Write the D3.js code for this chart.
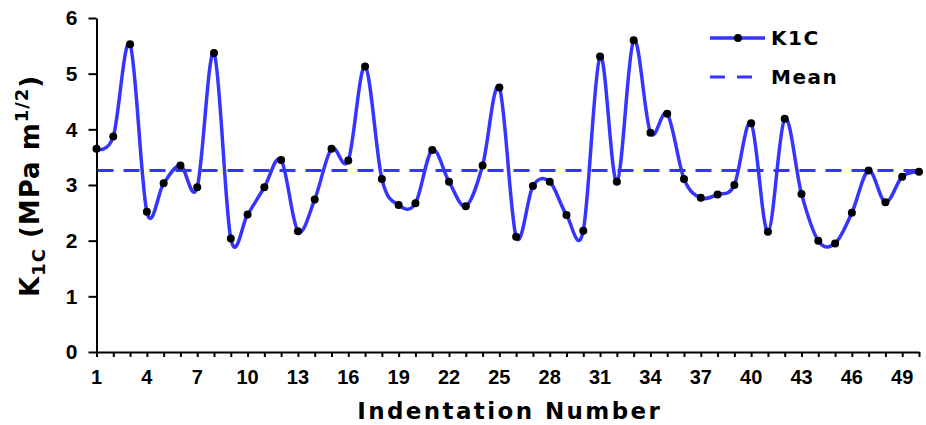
<!DOCTYPE html>
<html>
<head>
<meta charset="utf-8">
<script src="https://cdn.jsdelivr.net/npm/d3@7"></script>
<style>
  body { margin: 0; background: #fff; }
  svg { display: block; font-family: "DejaVu Sans", Verdana, sans-serif; font-weight: bold; }
</style>
</head>
<body>
<svg id="chart"></svg>
<script>
// indentation numbers and measured K1C values
var indentation = [1, 2, 3, 4, 5, 6, 7, 8, 9, 10,
                   11, 12, 13, 14, 15, 16, 17, 18, 19, 20,
                   21, 22, 23, 24, 25, 26, 27, 28, 29, 30,
                   31, 32, 33, 34, 35, 36, 37, 38, 39, 40,
                   41, 42, 43, 44, 45, 46, 47, 48, 49, 50]
var k1c = [3.65, 3.87, 5.53, 2.52, 3.03, 3.35, 2.96, 5.37, 2.04, 2.47,
           2.96, 3.45, 2.17, 2.74, 3.65, 3.44, 5.13, 3.11, 2.64, 2.67,
           3.63, 3.06, 2.62, 3.35, 4.75, 2.07, 2.98, 3.06, 2.46, 2.18,
           5.31, 3.06, 5.60, 3.94, 4.28, 3.11, 2.77, 2.83, 3.00, 4.11,
           2.16, 4.19, 2.84, 2.00, 1.95, 2.50, 3.26, 2.69, 3.15, 3.24]
var meanValue = 3.26
var xTicks = [1, 4, 7, 10, 13, 16, 19, 22, 25, 28, 31, 34, 37, 40, 43, 46, 49]
var yTicks = [0, 1, 2, 3, 4, 5, 6]
var legendItems = ["K1C", "Mean"]

var width = 926, height = 425
var margin = { top: 18, right: 7, bottom: 73, left: 96.5 }
var blue = "#3535ff"

var svg = d3.select("#chart")
            .attr("width", width)
            .attr("height", height)

var data = indentation.map((n, i) => ({ n: n, v: k1c[i] }))

var xScale = d3.scaleLinear()
               .domain([1, 50])
               .range([margin.left, width - margin.right])

var yScale = d3.scaleLinear()
               .domain([0, 6])
               .range([height - margin.bottom, margin.top])

// axes
var xAxis = svg.append("g")
               .attr("transform", `translate(0,${height - margin.bottom})`)
               .call(d3.axisBottom(xScale).tickValues(indentation).tickFormat("").tickSizeInner(5).tickSizeOuter(0))
xAxis.selectAll("text").remove()
xAxis.append("g").selectAll("text")
     .data(xTicks)
     .join("text")
     .attr("x", d => xScale(d))
     .attr("y", 32)
     .attr("text-anchor", "middle")
     .attr("fill", "#000")
     .style("font-size", "20px")
     .text(d => d)

var yAxis = svg.append("g")
               .attr("transform", `translate(${margin.left},0)`)
               .call(d3.axisLeft(yScale).tickValues(yTicks).tickFormat(d3.format("d"))
                       .tickSizeInner(8).tickSizeOuter(0).tickPadding(11))
yAxis.selectAll("text").style("font-size", "21px").style("font-family", "inherit").style("font-weight", "bold")

svg.selectAll(".domain, .tick line").attr("stroke", "#000").attr("stroke-width", 2)

// mean line
svg.append("line")
   .attr("x1", margin.left + 1)
   .attr("x2", width)
   .attr("y1", yScale(meanValue))
   .attr("y2", yScale(meanValue))
   .attr("stroke", blue)
   .attr("stroke-width", 3)
   .attr("stroke-dasharray", "16 10")

// smoothed series
var lineGen = d3.line()
                .x(d => xScale(d.n))
                .y(d => yScale(d.v))
                .curve(d3.curveCardinal.tension(0))

svg.append("path")
   .datum(data)
   .attr("d", lineGen)
   .attr("fill", "none")
   .attr("stroke", blue)
   .attr("stroke-width", 3.5)

svg.selectAll(".pt")
   .data(data)
   .join("circle")
   .attr("class", "pt")
   .attr("cx", d => xScale(d.n))
   .attr("cy", d => yScale(d.v))
   .attr("r", 4)
   .attr("fill", "#000")

// legend
var legend = svg.append("g").attr("transform", "translate(710,38)")
legend.append("line").attr("x1", 0).attr("x2", 55).attr("y1", 0).attr("y2", 0)
      .attr("stroke", blue).attr("stroke-width", 3.5)
legend.append("circle").attr("cx", 28).attr("cy", 0).attr("r", 4).attr("fill", "#000")
legend.append("line").attr("x1", 0).attr("x2", 50).attr("y1", 39).attr("y2", 39)
      .attr("stroke", blue).attr("stroke-width", 3).attr("stroke-dasharray", "15 12")
legend.selectAll("text")
      .data(legendItems)
      .join("text")
      .attr("x", 61)
      .attr("y", (d, i) => i * 39 + 7)
      .style("font-size", "20px")
      .style("letter-spacing", "1.5px")
      .text(d => d)

// axis titles
svg.append("text")
   .attr("x", (margin.left + width - margin.right) / 2 + 2)
   .attr("y", 419)
   .attr("text-anchor", "middle")
   .style("font-size", "23px")
   .style("letter-spacing", "2.4px")
   .text("Indentation Number")

var yTitle = svg.append("text")
   .attr("transform", "translate(39,297) rotate(-90)")
   .attr("text-anchor", "start")
   .style("font-size", "26px")
   .style("letter-spacing", "1px")
yTitle.append("tspan").text("K")
yTitle.append("tspan").attr("dy", 6).style("font-size", "18px").text("1C")
yTitle.append("tspan").attr("dy", -6).text("  (MPa m")
yTitle.append("tspan").attr("dy", -11).style("font-size", "18px").text("1/2")
yTitle.append("tspan").attr("dy", 11).text(")")
</script>
</body>
</html>
